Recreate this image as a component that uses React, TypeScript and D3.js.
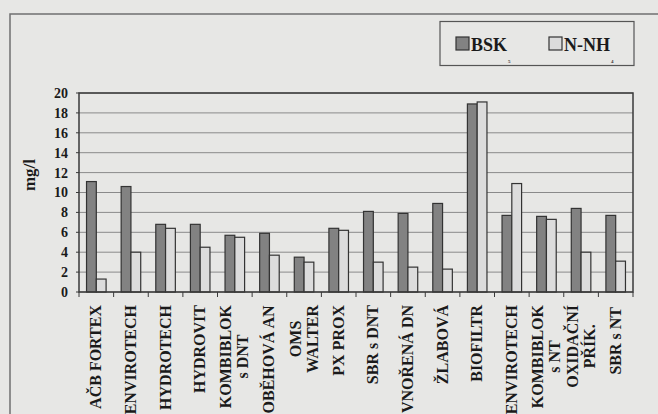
import * as d3 from "d3";

const categories: string[][] = [
  ["AČB FORTEX"],
  ["ENVIROTECH"],
  ["HYDROTECH"],
  ["HYDROVIT"],
  ["KOMBIBLOK", "s DNT"],
  ["OBĚHOVÁ AN"],
  ["OMS", "WALTER"],
  ["PX PROX"],
  ["SBR s DNT"],
  ["VNOŘENÁ DN"],
  ["ŽLABOVÁ"],
  ["BIOFILTR"],
  ["ENVIROTECH"],
  ["KOMBIBLOK", "s NT"],
  ["OXIDAČNÍ", "PŘÍK."],
  ["SBR  s NT"],
];
const bsk: number[] = [11.1, 10.6, 6.8, 6.8, 5.7, 5.9, 3.5, 6.4, 8.1, 7.9, 8.9, 18.9, 7.7, 7.6, 8.4, 7.7];
const nnh: number[] = [1.3, 4.0, 6.4, 4.5, 5.5, 3.7, 3.0, 6.2, 3.0, 2.5, 2.3, 19.1, 10.9, 7.3, 4.0, 3.1];
const seriesNames = ["BSK", "N-NH"];
const seriesSubs = ["5", "4"];
const yTicks: number[] = [0, 2, 4, 6, 8, 10, 12, 14, 16, 18, 20];

const W = 658;
const H = 414;
const plot = { left: 79, right: 633, top: 93, bottom: 292 };
const FONT = "'Liberation Serif', 'DejaVu Serif', serif";
const fills = ["#828282", "#dcdcdc"];

let ctx: CanvasRenderingContext2D | null = null;
function textWidth(s: string) {
  if (!ctx) ctx = document.createElement("canvas").getContext("2d");
  if (!ctx) return s.length * 9;
  ctx.font = `bold 16px ${FONT}`;
  return ctx.measureText(s).width;
}

export default function App() {
  const x0 = d3.scaleBand<number>()
    .domain(d3.range(categories.length))
    .range([plot.left, plot.right]);
  const x1 = d3.scaleBand<number>()
    .domain([0, 1])
    .range([0, x0.bandwidth()])
    .paddingOuter(0.77);
  const y = d3.scaleLinear().domain([0, 20]).range([plot.bottom, plot.top]);
  const values = [bsk, nnh];

  const labelTop = 305;
  const txt = { fontFamily: FONT, fontWeight: 700 } as const;

  return (
    <svg width={W} height={H} style={{ position: "absolute", left: 0, top: 0, display: "block", fontFamily: FONT, fontWeight: 700 }}>
      <rect x={0} y={0} width={W} height={H} fill="#e7e7e5" />
      {/* outer frame */}
      <rect x={10} y={14} width={W + 20} height={H + 20} fill="none" stroke="#707070" strokeWidth={1.5} />

      {/* legend */}
      <rect x={440} y={21.5} width={194} height={44} fill="none" stroke="#555" strokeWidth={1.2} />
      {seriesNames.map((name, i) => {
        const lx = i === 0 ? 456 : 549;
        return (
          <g key={name}>
            <rect x={lx} y={37} width={13} height={13} fill={fills[i]} stroke="#333" strokeWidth={1.2} />
            <text x={lx + 15} y={50.5} fontSize={18} fill="#1a1a1a" style={txt}>{name}</text>
            <text x={lx + (i === 0 ? 52 : 62)} y={63} fontSize={5} fill="#333" style={txt}>{seriesSubs[i]}</text>
          </g>
        );
      })}

      {/* gridlines */}
      {yTicks.map((t) => (
        <line key={"g" + t} x1={plot.left} x2={plot.right} y1={y(t)} y2={y(t)} stroke="#8a8a8a" strokeWidth={1} />
      ))}

      {/* bars */}
      {categories.map((_, ci) => (
        <g key={"c" + ci} transform={`translate(${x0(ci)},0)`}>
          {values.map((vals, si) => (
            <rect key={si} x={x1(si)} y={y(vals[ci])} width={x1.bandwidth()}
              height={y(0) - y(vals[ci])} fill={fills[si]} stroke="#333" strokeWidth={1.2} />
          ))}
        </g>
      ))}

      {/* plot border */}
      <rect x={plot.left} y={plot.top} width={plot.right - plot.left} height={plot.bottom - plot.top}
        fill="none" stroke="#3a3a3a" strokeWidth={1.5} />

      {/* y axis */}
      {yTicks.map((t) => (
        <g key={"y" + t}>
          <line x1={plot.left - 3} x2={plot.left} y1={y(t)} y2={y(t)} stroke="#3a3a3a" />
          <text x={68} y={y(t)} dy="0.35em" textAnchor="end" fontSize={14} fill="#1a1a1a" style={txt}>{t}</text>
        </g>
      ))}
      <text transform={`translate(35,175) rotate(-90)`} textAnchor="middle" fontSize={17} fill="#1a1a1a" style={txt}>mg/l</text>

      {/* x axis ticks */}
      {d3.range(categories.length + 1).map((i) => {
        const xx = plot.left + i * x0.step();
        return <line key={"t" + i} x1={xx} x2={xx} y1={plot.bottom} y2={plot.bottom + 5} stroke="#3a3a3a" />;
      })}

      {/* x labels */}
      {categories.map((lines, ci) => {
        const cx = (x0(ci) as number) + x0.bandwidth() / 2;
        const block = Math.max(...lines.map(textWidth));
        const lh = 17;
        return lines.map((ln, li) => {
          const lx = cx + (li - (lines.length - 1) / 2) * lh + 5;
          const ly = labelTop + block / 2;
          return (
            <text key={ci + "-" + li} transform={`translate(${lx},${ly}) rotate(-90)`}
              textAnchor="middle" fontSize={16} fill="#1a1a1a" style={txt}>{ln}</text>
          );
        });
      })}
    </svg>
  );
}
